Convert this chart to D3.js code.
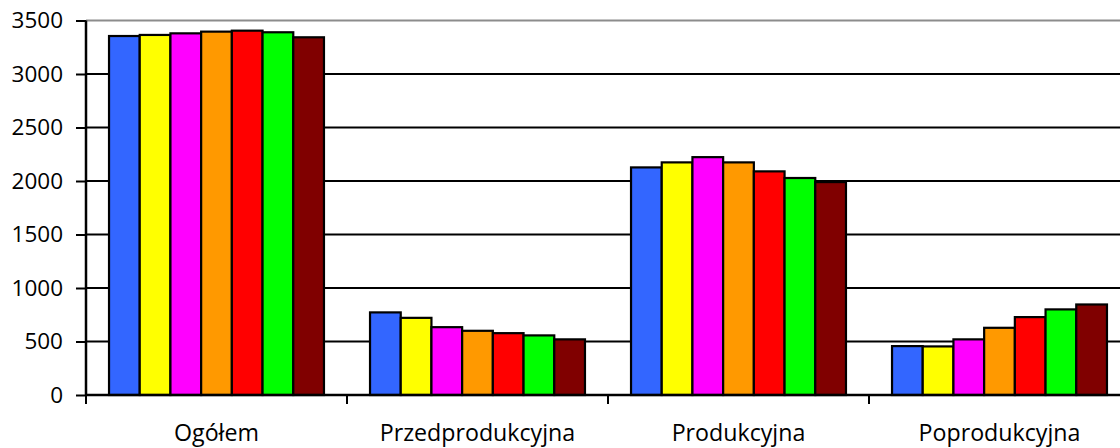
<!DOCTYPE html>
<html><head><meta charset="utf-8">
<script src="https://cdn.jsdelivr.net/npm/d3@7"></script>
<style>
html,body{margin:0;padding:0;background:#fff;}
svg{display:block;}
text{font-family:"Open Sans",sans-serif;fill:#000;}
</style></head>
<body>
<svg id="chart" width="1120" height="448"></svg>
<script>
const categories = ["Ogółem", "Przedprodukcyjna", "Produkcyjna", "Poprodukcyjna"];
const seriesNames = ["Seria 1", "Seria 2", "Seria 3", "Seria 4", "Seria 5", "Seria 6", "Seria 7"];
const seriesColors = ["#3366FF", "#FFFF00", "#FF00FF", "#FF9900", "#FF0000", "#00FF00", "#800000"];
const ogolem = [3355, 3365, 3380, 3396, 3405, 3390, 3343];
const przedprodukcyjna = [772, 721, 634, 600, 578, 557, 520];
const produkcyjna = [2127, 2174, 2223, 2174, 2090, 2028, 1990];
const poprodukcyjna = [457, 454, 520, 628, 728, 800, 846];
const yTicks = [0, 500, 1000, 1500, 2000, 2500, 3000, 3500];

const groupValues = [ogolem, przedprodukcyjna, produkcyjna, poprodukcyjna];

const svg = d3.select("#chart");
const left = 86, step = 261;
const x0 = d3.scaleBand().domain(categories).range([left, left + step * categories.length]).paddingInner(0).paddingOuter(0);
const x1 = d3.scaleBand().domain(seriesNames).range([0, x0.bandwidth()]).paddingInner(0).paddingOuter(0.75);
const y = d3.scaleLinear().domain([0, 3500]).range([395, 20.5]);

// gridlines
svg.append("g").selectAll("line").data(yTicks.filter(d => d > 0)).join("line")
  .attr("x1", left).attr("x2", 1120)
  .attr("y1", d => y(d)).attr("y2", d => y(d))
  .attr("stroke", d => d === 3500 ? "#8c8c8c" : "#000")
  .attr("stroke-width", 2);

// bars
const groups = svg.append("g").selectAll("g").data(categories).join("g")
  .attr("transform", d => `translate(${x0(d)},0)`);
groups.selectAll("rect").data((c, i) => groupValues[i].map((v, j) => ({name: seriesNames[j], value: v, color: seriesColors[j]})))
  .join("rect")
  .attr("x", d => x1(d.name))
  .attr("width", x1.bandwidth())
  .attr("y", d => y(d.value))
  .attr("height", d => y(0) - y(d.value))
  .attr("fill", d => d.color)
  .attr("stroke", "#000")
  .attr("stroke-width", 2.2);

// y axis
const yAxis = d3.axisLeft(y).tickValues(yTicks).tickSize(10).tickPadding(13).tickFormat(d3.format("d"));
const gy = svg.append("g").attr("transform", `translate(${left},0)`).call(yAxis);
gy.select(".domain").attr("stroke", "#000").attr("stroke-width", 2.5).attr("d", `M0,${y(3500)}V${y(0)}`);
gy.selectAll(".tick line").attr("stroke", "#000").attr("stroke-width", 2);
gy.selectAll(".tick text").attr("font-size", 22.5).attr("font-family", "Open Sans, sans-serif").attr("fill", "#000");

// x axis
const boundaries = d3.range(categories.length + 1).map(i => left + step * i);
const gx = svg.append("g");
gx.append("line").attr("x1", left).attr("x2", 1120).attr("y1", y(0)).attr("y2", y(0))
  .attr("stroke", "#000").attr("stroke-width", 2.5);
gx.selectAll("line.tk").data(boundaries).join("line").attr("class", "tk")
  .attr("x1", d => d).attr("x2", d => d).attr("y1", y(0)).attr("y2", y(0) + 9)
  .attr("stroke", "#000").attr("stroke-width", 2);
gx.selectAll("text").data(categories).join("text")
  .attr("x", d => x0(d) + x0.bandwidth() / 2)
  .attr("y", 441)
  .attr("text-anchor", "middle")
  .attr("font-size", 23.2)
  .text(d => d);
</script>
</body></html>
